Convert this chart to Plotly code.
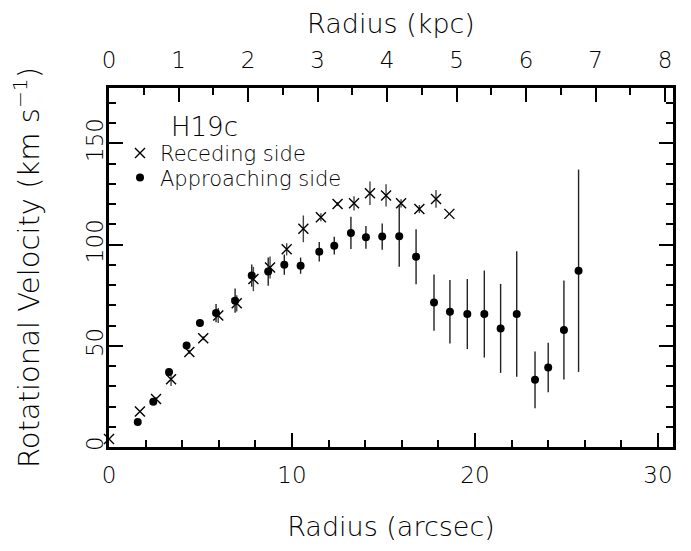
import plotly.graph_objects as go

# Receding side (crosses)
rec_r = [0.0, 1.69, 2.57, 3.39, 4.39, 5.15, 5.97, 6.98, 7.89, 8.8,
         9.71, 10.62, 11.58, 12.49, 13.39, 14.26, 15.14, 15.96, 16.96, 17.87,
         18.6]
rec_v = [4, 17.5, 23.7, 33.5, 47, 53.7, 65, 71, 83, 88.7,
         97.7, 107.8, 113.5, 120.1, 120.4, 125.4, 124.3, 120.4, 117.6, 122.6,
         115.2]
rec_e = [0, 0, 1, 3.3, 1, 1, 3.7, 4, 6, 5.4,
         3, 6.6, 2, 1, 3.5, 5.8, 5.5, 2, 2, 4.4,
         0]

# Approaching side (dots)
app_r = [1.57, 2.42, 3.28, 4.24, 4.97, 5.85, 6.89, 7.8, 8.7, 9.58,
         10.47, 11.49, 12.31, 13.22, 14.04, 14.93, 15.86, 16.78, 17.76, 18.63,
         19.58, 20.51, 21.4, 22.28, 23.28, 24.0, 24.86, 25.66]
app_v = [12.4, 22.3, 37, 50.2, 61.3, 66.2, 72.3, 84.7, 86.7, 90.1,
         89.6, 96.5, 99.5, 105.8, 103.6, 104, 104.1, 94, 71.4, 66.8,
         65.7, 65.7, 58.6, 65.7, 33.2, 39.3, 57.8, 87.1]
app_e = [0, 0, 1, 0.5, 0, 4.5, 6, 5.5, 7, 5,
         4, 4.8, 4.4, 8, 5.6, 6.5, 15, 13.6, 13.9, 15.7,
         17.3, 21.5, 22, 31, 14, 12.2, 24.5, 50]

x_range = [0, 30.82]
kpc_per_arcsec = 0.2633
y_range = [0, 177.4]
kpc_ticks = [0, 1, 2, 3, 4, 5, 6, 7, 8]
arcsec_ticks = [0, 10, 20, 30]
vel_ticks = [0, 50, 100, 150]

FONT = "DejaVu Sans"
TICKFONT = dict(family=FONT, size=23, weight=300)
TITLEFONT = dict(family=FONT, size=27, weight=300)

fig = go.Figure()

fig.add_trace(go.Scatter(
    x=rec_r, y=rec_v, mode="markers", name="Receding side",
    legend="legend",
    marker=dict(symbol="x-thin", size=10, color="black",
                line=dict(width=1.4, color="black")),
    error_y=dict(type="data", array=rec_e, visible=True, width=0,
                 thickness=1.4, color="#444"),
    cliponaxis=False,
))
fig.add_trace(go.Scatter(
    x=app_r, y=app_v, mode="markers", name="Approaching side",
    legend="legend2",
    marker=dict(symbol="circle", size=8, color="black"),
    error_y=dict(type="data", array=app_e, visible=True, width=0,
                 thickness=1.4, color="#222"),
    cliponaxis=False,
))
# helper trace for the kpc / right axes
fig.add_trace(go.Scatter(x=[], y=[], xaxis="x2", yaxis="y2",
                         showlegend=False, hoverinfo="skip"))

axis_common = dict(showgrid=False, zeroline=False, showline=True,
                   linewidth=2.5, linecolor="black", ticks="inside",
                   ticklen=14, tickwidth=1.5, tickcolor="black",
                   automargin=False, tickfont=TICKFONT)

legend_common = dict(xanchor="left", yanchor="middle",
                     bgcolor="rgba(0,0,0,0)", font=dict(size=21, weight=300),
                     itemwidth=30, tracegroupgap=0)

# The page body adds an 8px offset, so the figure is 8px smaller and the
# left/top margins 8px narrower to put the frame where the reference has it.
fig.update_layout(
    width=683, height=543,
    margin=dict(l=101, r=18, t=80, b=104),
    plot_bgcolor="white", paper_bgcolor="white",
    font=dict(family=FONT, size=21, color="black", weight=300),
    showlegend=True,
    legend=dict(x=0.0195, y=0.818, **legend_common),
    legend2=dict(x=0.0195, y=0.750, **legend_common),
    xaxis=dict(range=x_range, tickvals=arcsec_ticks, ticklabelstandoff=6,
               minor=dict(dtick=2, ticks="inside", ticklen=7, tickwidth=1.5,
                          tickcolor="black"),
               title=dict(text="Radius (arcsec)", font=TITLEFONT, standoff=30),
               **axis_common),
    xaxis2=dict(range=[x_range[0] * kpc_per_arcsec, x_range[1] * kpc_per_arcsec],
                overlaying="x", side="top", anchor="y", tickvals=kpc_ticks,
                ticklabelstandoff=8,
                minor=dict(dtick=0.5, ticks="inside", ticklen=7, tickwidth=1.5,
                           tickcolor="black"),
                title=dict(text="Radius (kpc)", font=TITLEFONT, standoff=10),
                **axis_common),
    yaxis=dict(range=y_range, tickvals=vel_ticks, tickangle=-90,
               ticklabelstandoff=-6,
               minor=dict(dtick=10, ticks="inside", ticklen=7, tickwidth=1.5,
                          tickcolor="black"),
               title=dict(text="Rotational Velocity (km s<sup>−1</sup>)",
                          font=dict(family=FONT, size=29, weight=300),
                          standoff=35),
               **axis_common),
    yaxis2=dict(range=y_range, overlaying="y", side="right", anchor="x",
                tickvals=vel_ticks, showticklabels=False,
                minor=dict(dtick=10, ticks="inside", ticklen=7, tickwidth=1.5,
                           tickcolor="black"),
                **axis_common),
    annotations=[dict(text="H19c", xref="paper", yref="paper", x=0.17, y=0.892,
                      xanchor="center", yanchor="middle", showarrow=False,
                      font=dict(family=FONT, size=26, weight=300))],
)

fig.write_html("out.html")
